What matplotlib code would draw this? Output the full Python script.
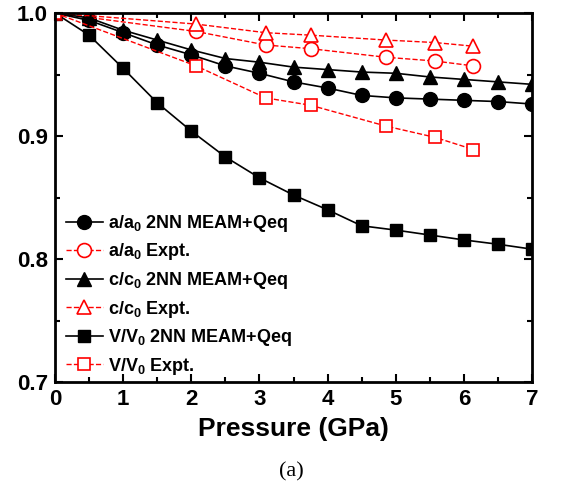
import numpy as np
import matplotlib.pyplot as plt
from matplotlib.ticker import MultipleLocator

plt.rcParams['font.family'] = ['Liberation Sans', 'DejaVu Sans']
plt.rcParams['font.weight'] = 'bold'
plt.rcParams['mathtext.fontset'] = 'custom'
plt.rcParams['mathtext.bf'] = 'Liberation Sans:bold'

# model (2NN MEAM+Qeq), every 0.5 GPa
p_calc = [0, 0.5, 1, 1.5, 2, 2.5, 3, 3.5, 4, 4.5, 5, 5.5, 6, 6.5, 7]
a_calc = [1.0, 0.994, 0.984, 0.974, 0.966, 0.957, 0.951, 0.944, 0.939, 0.933, 0.931, 0.930, 0.929, 0.928, 0.926]
c_calc = [1.0, 0.996, 0.986, 0.978, 0.970, 0.963, 0.960, 0.956, 0.954, 0.952, 0.951, 0.948, 0.946, 0.944, 0.942]
v_calc = [1.0, 0.982, 0.955, 0.927, 0.904, 0.883, 0.866, 0.852, 0.840, 0.827, 0.8235, 0.8195, 0.8155, 0.812, 0.808]

# experiment
p_exp = [0, 2.07, 3.09, 3.75, 4.86, 5.57, 6.14]
a_exp = [1.0, 0.985, 0.974, 0.971, 0.964, 0.961, 0.957]
c_exp = [1.0, 0.991, 0.984, 0.982, 0.978, 0.976, 0.973]
v_exp = [1.0, 0.957, 0.931, 0.925, 0.908, 0.899, 0.889]

fig = plt.figure(figsize=(5.70, 4.91), dpi=100)
ax = fig.add_axes([0.0965, 0.222, 0.837, 0.7515])

ax.plot(p_calc, a_calc, 'k-', marker='o', ms=10, lw=1.2, label='a/a$_\\mathbf{0}$ 2NN MEAM+Qeq')
ax.plot(p_exp, a_exp, 'r--', marker='o', ms=10, mfc='white', mew=1.2, lw=1.0, label='a/a$_\\mathbf{0}$ Expt.')
ax.plot(p_calc, c_calc, 'k-', marker='^', ms=10, lw=1.2, label='c/c$_\\mathbf{0}$ 2NN MEAM+Qeq')
ax.plot(p_exp, c_exp, 'r--', marker='^', ms=10, mfc='white', mew=1.2, lw=1.0, label='c/c$_\\mathbf{0}$ Expt.')
ax.plot(p_calc, v_calc, 'k-', marker='s', ms=9, lw=1.2, label='V/V$_\\mathbf{0}$ 2NN MEAM+Qeq')
ax.plot(p_exp, v_exp, 'r--', marker='s', ms=9, mfc='white', mew=1.2, lw=1.0, label='V/V$_\\mathbf{0}$ Expt.')

ax.set_xlim(0, 7)
ax.set_ylim(0.7, 1.0)
ax.xaxis.set_major_locator(MultipleLocator(1))
ax.xaxis.set_minor_locator(MultipleLocator(0.5))
ax.yaxis.set_major_locator(MultipleLocator(0.1))
ax.yaxis.set_minor_locator(MultipleLocator(0.05))
ax.tick_params(which='both', direction='in', top=True, right=True, width=1.5)
ax.tick_params(which='major', length=6, labelsize=16, pad=5)
ax.tick_params(which='minor', length=3.5)
for lab in ax.get_xticklabels() + ax.get_yticklabels():
    lab.set_fontweight('bold')
ax.yaxis.set_major_formatter(plt.FormatStrFormatter('%.1f'))
for s in ax.spines.values():
    s.set_linewidth(2)

ax.set_xlabel('Pressure (GPa)', fontsize=19, fontweight='bold', labelpad=5)

leg = ax.legend(loc='lower left', bbox_to_anchor=(-0.012, -0.03), frameon=False,
                prop={'size': 13, 'weight': 'bold'}, handlelength=2.1,
                handletextpad=0.25, labelspacing=0.42)

fig.text(0.512, 0.03, '(a)', fontsize=16, fontweight='normal',
         family=['Liberation Serif', 'DejaVu Serif'], ha='center')

fig.savefig('out.png', dpi=100)
